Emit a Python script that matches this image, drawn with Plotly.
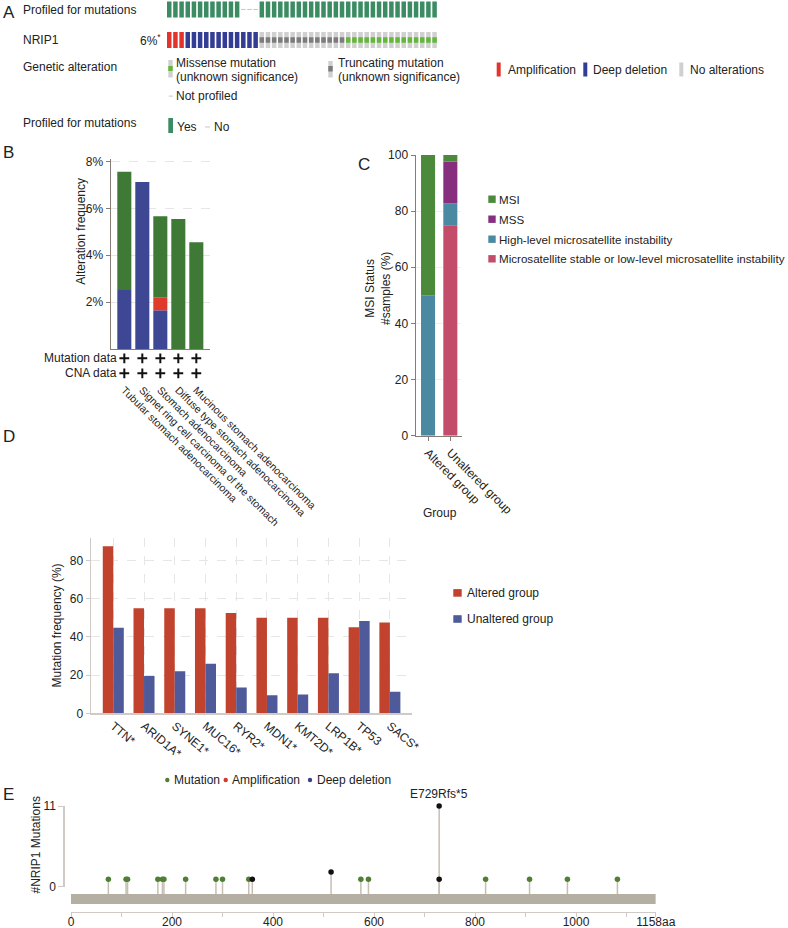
import plotly.graph_objects as go

W, H = 788, 928
FONT = "Liberation Sans, Arial, Helvetica, sans-serif"
TXT = "#222222"

def fx(x): return x / W
def fy(y): return 1 - y / H
def xdom(a, b): return [a / W, b / W]
def ydom(top, bottom): return [1 - bottom / H, 1 - top / H]

# ---------------- DATA ----------------
# Panel A (oncoprint)
a_profiled = ["Yes"] * 12 + ["No"] * 3 + ["Yes"] * 29
a_nrip1 = (["Amplification"] * 3 + ["Deep deletion"] * 12 +
           ["Truncating"] * 14 + ["Missense"] * 15)
a_gene = "NRIP1"
a_freq = "6%"

# Panel B (alteration frequency by cancer type)
b_types = ["Tubular stomach adenocarcinoma",
           "Signet ring cell carcinoma of the stomach",
           "Stomach adenocarcinoma",
           "Diffuse type stomach adenocarcinoma",
           "Mucinous stomach adenocarcinoma"]
b_deep_deletion = [2.52, 7.12, 1.65, 0.0, 0.0]
b_amplification = [0.0, 0.0, 0.55, 0.0, 0.0]
b_mutation = [5.04, 0.0, 3.46, 5.54, 4.55]
b_has_mutation_data = [True, True, True, True, True]
b_has_cna_data = [True, True, True, True, True]
b_yticks = [2, 4, 6, 8]
b_yticklabels = ["2%", "4%", "6%", "8%"]

# Panel C (MSI status)
c_groups = ["Altered group", "Unaltered group"]
c_ms_stable = [0.0, 75.0]
c_high_msi = [50.0, 7.8]
c_mss = [0.0, 14.9]
c_msi = [50.0, 2.3]
c_yticks = [0, 20, 40, 60, 80, 100]

# Panel D (co-mutation frequencies)
d_genes = ["TTN*", "ARID1A*", "SYNE1*", "MUC16*", "RYR2*", "MDN1*",
           "KMT2D*", "LRP1B*", "TP53", "SACS*"]
d_altered = [87.5, 55.0, 55.0, 55.0, 52.5, 50.0, 50.0, 50.0, 45.0, 47.5]
d_unaltered = [44.8, 19.5, 22.0, 26.0, 13.5, 9.5, 9.8, 21.0, 48.3, 11.3]
d_yticks = [0, 20, 40, 60, 80]

# Panel E (lollipop)
e_missense_pos = [74, 109, 112, 172, 181, 184, 227, 287, 300, 352,
                  574, 589, 821, 908, 983, 1082]
e_missense_cnt = [1] * 16
e_trunc_pos = [359, 515, 729, 729]
e_trunc_cnt = [1, 2, 11, 1]
e_hotspot_label = "E729Rfs*5"
e_hotspot_pos = 729
e_hotspot_cnt = 11
e_protein_len = 1158
e_xticks = [0, 200, 400, 600, 800, 1000, 1158]
e_xticklabels = ["0", "200", "400", "600", "800", "1000", "1158aa"]
e_xminor = [100, 300, 500, 700, 900, 1100]
e_yticks = [0, 11]

# ---------------- COLOURS ----------------
PROF_GREEN = "#3b8c63"
AMP_RED = "#e2342c"
DEL_BLUE = "#343d95"
NOALT_GRAY = "#d0d0d0"
TRUNC_GRAY = "#7c7c7c"
MISS_GREEN = "#63b83b"
NP_GRAY = "#c6c6c6"

B_GREEN = "#3e7a35"
B_BLUE = "#3d4794"
B_RED = "#e03a2c"

C_MSI = "#4c8a3b"
C_MSS = "#872e7e"
C_HIGH = "#4b88a2"
C_STABLE = "#c34c6a"

D_RED = "#c1432d"
D_BLUE = "#4e5a9a"

E_GREEN = "#4f7f35"
E_BLACK = "#111111"
E_RED = "#d23b2b"
E_BLUE = "#3b3f8e"
E_STEM = "#c6beb2"
E_PROT = "#b5aea3"

AX_DARK = "#857c77"
AX_LIGHT = "#cfcac5"
GRID = "#e6e6e6"

fig = go.Figure()
common = dict(showlegend=False, hoverinfo="skip")

# ---------------- PANEL A ----------------
CELL_W = 0.73
CELL_H = 0.525
INNER_H = 0.18
prof_yes = [i for i, s in enumerate(a_profiled) if s == "Yes"]
prof_no = [i for i, s in enumerate(a_profiled) if s == "No"]
fig.add_trace(go.Bar(x=prof_yes, y=[CELL_H] * len(prof_yes), base=1 - CELL_H / 2,
                     width=CELL_W, marker=dict(color=PROF_GREEN, line_width=0),
                     xaxis="x", yaxis="y", **common))
fig.add_trace(go.Bar(x=prof_no, y=[0.035] * len(prof_no), base=1 - 0.0175,
                     width=CELL_W, marker=dict(color=NP_GRAY, line_width=0),
                     xaxis="x", yaxis="y", **common))
cmap = {"Amplification": AMP_RED, "Deep deletion": DEL_BLUE,
        "Truncating": NOALT_GRAY, "Missense": NOALT_GRAY}
fig.add_trace(go.Bar(x=list(range(len(a_nrip1))), y=[CELL_H] * len(a_nrip1),
                     base=-CELL_H / 2, width=CELL_W,
                     marker=dict(color=[cmap[s] for s in a_nrip1], line_width=0),
                     xaxis="x", yaxis="y", **common))
for kind, col in [("Truncating", TRUNC_GRAY), ("Missense", MISS_GREEN)]:
    ids = [i for i, s in enumerate(a_nrip1) if s == kind]
    fig.add_trace(go.Bar(x=ids, y=[INNER_H] * len(ids), base=-INNER_H / 2,
                         width=CELL_W, marker=dict(color=col, line_width=0),
                         xaxis="x", yaxis="y", **common))

# ---------------- PANEL B ----------------
b_base_amp = b_deep_deletion
b_base_mut = [d + a for d, a in zip(b_deep_deletion, b_amplification)]
B_W = 0.78
fig.add_trace(go.Bar(x=b_types, y=b_deep_deletion, width=B_W,
                     marker=dict(color=B_BLUE, line_width=0), xaxis="x2", yaxis="y2", **common))
fig.add_trace(go.Bar(x=b_types, y=b_amplification, base=b_base_amp, width=B_W,
                     marker=dict(color=B_RED, line_width=0), xaxis="x2", yaxis="y2", **common))
fig.add_trace(go.Bar(x=b_types, y=b_mutation, base=b_base_mut, width=B_W,
                     marker=dict(color=B_GREEN, line_width=0), xaxis="x2", yaxis="y2", **common))
cross = dict(symbol="cross-thin", size=7, color="#111111", line=dict(width=2, color="#111111"))
fig.add_trace(go.Scatter(x=[t for t, f in zip(b_types, b_has_mutation_data) if f],
                         y=["Mutation data"] * sum(b_has_mutation_data), mode="markers",
                         marker=cross, xaxis="x3", yaxis="y3", **common))
fig.add_trace(go.Scatter(x=[t for t, f in zip(b_types, b_has_cna_data) if f],
                         y=["CNA data"] * sum(b_has_cna_data), mode="markers",
                         marker=cross, xaxis="x3", yaxis="y3", **common))

# ---------------- PANEL C ----------------
C_W = 0.63
c_series = [("Microsatellite stable or low-level microsatellite instability", c_ms_stable, C_STABLE),
            ("High-level microsatellite instability", c_high_msi, C_HIGH),
            ("MSS", c_mss, C_MSS),
            ("MSI", c_msi, C_MSI)]
running = [0.0] * len(c_groups)
for name, vals, col in c_series:
    fig.add_trace(go.Bar(x=c_groups, y=vals, base=list(running), width=C_W, name=name,
                         marker=dict(color=col, line_width=0), xaxis="x4", yaxis="y4", **common))
    running = [r + v for r, v in zip(running, vals)]

# ---------------- PANEL D ----------------
D_W = 0.342
fig.add_trace(go.Bar(x=d_genes, y=d_altered, width=D_W, offset=-D_W, name="Altered group",
                     marker=dict(color=D_RED, line_width=0), xaxis="x5", yaxis="y5", **common))
fig.add_trace(go.Bar(x=d_genes, y=d_unaltered, width=D_W, offset=0, name="Unaltered group",
                     marker=dict(color=D_BLUE, line_width=0), xaxis="x5", yaxis="y5", **common))

# ---------------- PANEL E ----------------
STEM_BASE = -1.0
sx, sy = [], []
for p, c in list(zip(e_missense_pos, e_missense_cnt)) + list(zip(e_trunc_pos, e_trunc_cnt)):
    sx += [p, p, None]
    sy += [STEM_BASE, c, None]
fig.add_trace(go.Scatter(x=sx, y=sy, mode="lines", line=dict(color=E_STEM, width=1.5),
                         xaxis="x6", yaxis="y6", **common))
fig.add_trace(go.Scatter(x=e_missense_pos, y=e_missense_cnt, mode="markers",
                         marker=dict(color=E_GREEN, size=5.5, line_width=0),
                         xaxis="x6", yaxis="y6", **common))
fig.add_trace(go.Scatter(x=e_trunc_pos, y=e_trunc_cnt, mode="markers",
                         marker=dict(color=E_BLACK, size=5.5, line_width=0),
                         xaxis="x6", yaxis="y6", **common))
fig.add_trace(go.Scatter(x=[None], y=[None], xaxis="x7", yaxis="y7", **common))

# ---------------- LAYOUT / AXES ----------------
hidden = dict(visible=False, fixedrange=True)
tickfont = dict(family=FONT, size=12, color=TXT)

layout = dict(
    width=W, height=H, margin=dict(l=0, r=0, t=0, b=0),
    paper_bgcolor="white", plot_bgcolor="rgba(0,0,0,0)",
    barmode="overlay", showlegend=False,
    font=dict(family=FONT, size=12, color=TXT),
    # A
    xaxis=dict(domain=xdom(167, 438.5), range=[-0.365, 43.635], anchor="y", **hidden),
    yaxis=dict(domain=ydom(0, 50), range=[-0.328, 1.311], anchor="x", **hidden),
    # B
    xaxis2=dict(domain=xdom(111, 210), anchor="y2", type="category",
                categoryorder="array", categoryarray=b_types, range=[-0.74, 4.76],
                showline=True, linecolor=AX_DARK, linewidth=1.2, ticks="",
                showticklabels=False, showgrid=False, zeroline=False, automargin=False),
    yaxis2=dict(domain=ydom(159.1, 349), anchor="x2", range=[0, 8.1],
                tickvals=b_yticks, ticktext=b_yticklabels, ticks="outside", ticklen=4,
                tickcolor=AX_DARK, showline=True, linecolor=AX_DARK, linewidth=1.5,
                showgrid=True, gridcolor=GRID, griddash="dash", zeroline=False,
                tickfont=tickfont, automargin=False),
    xaxis3=dict(domain=xdom(111, 210), anchor="y3", type="category",
                categoryorder="array", categoryarray=b_types, range=[-0.74, 4.76],
                showline=False, ticks="", tickangle=45, showgrid=False, zeroline=False,
                tickfont=dict(family=FONT, size=10.5, color=TXT), automargin=False),
    yaxis3=dict(domain=ydom(351, 381), anchor="x3", type="category",
                categoryorder="array", categoryarray=["CNA data", "Mutation data"],
                range=[-0.513, 1.487], **hidden),
    # C
    xaxis4=dict(domain=xdom(416, 461.7), anchor="y4", type="category",
                categoryorder="array", categoryarray=c_groups, range=[-0.54, 1.51],
                showline=True, linecolor=AX_DARK, linewidth=1.5, ticks="outside",
                ticklen=4, tickcolor=AX_DARK, tickangle=45, showgrid=False,
                zeroline=False, tickfont=tickfont, automargin=False),
    yaxis4=dict(domain=ydom(155, 435.7), anchor="x4", range=[0, 100],
                tickvals=c_yticks, ticks="outside", ticklen=4, tickcolor=AX_DARK,
                showline=True, linecolor=AX_DARK, linewidth=1.5, showgrid=True,
                gridcolor="#efefef", griddash="dash", zeroline=False,
                tickfont=tickfont, automargin=False),
    # D
    xaxis5=dict(domain=xdom(90.7, 411.7), anchor="y5", type="category",
                categoryorder="array", categoryarray=d_genes, range=[-0.735, 9.71],
                showline=True, linecolor=AX_LIGHT, linewidth=1.2, ticks="",
                tickangle=40, showgrid=True, gridcolor=GRID, griddash="dash",
                zeroline=False, tickfont=tickfont, automargin=False),
    yaxis5=dict(domain=ydom(537.6, 713.3), anchor="x5", range=[0, 92],
                tickvals=d_yticks, ticks="outside", ticklen=4, tickcolor=AX_LIGHT,
                showline=True, linecolor=AX_LIGHT, linewidth=1.2, showgrid=True,
                gridcolor=GRID, griddash="dash", zeroline=False,
                tickfont=tickfont, automargin=False),
    # E
    xaxis6=dict(domain=xdom(71, 655.8), anchor="y6", range=[0, e_protein_len],
                tickvals=e_xticks, ticktext=e_xticklabels, ticks="outside", ticklen=4,
                tickcolor=AX_LIGHT, showline=True, linecolor=AX_LIGHT, linewidth=1.2,
                minor=dict(tickvals=e_xminor, ticks="outside", ticklen=4, tickcolor=AX_LIGHT),
                ticklabelstandoff=-5,
                showgrid=False, zeroline=False, tickfont=tickfont, automargin=False),
    yaxis6=dict(domain=ydom(800, 911.7), anchor="x6", range=[-3.408, 11.82], **hidden),
    xaxis7=dict(domain=xdom(71, 655.8), anchor="y7", range=[0, e_protein_len], **hidden),
    yaxis7=dict(domain=ydom(806, 886.7), anchor="free", position=fx(63.3), range=[0, 11],
                tickvals=e_yticks, ticks="outside", ticklen=5, tickcolor=AX_LIGHT,
                showline=True, linecolor=AX_LIGHT, linewidth=1.2, showgrid=False,
                zeroline=False, tickfont=tickfont, automargin=False),
)
fig.update_layout(**layout)

# ---------------- SHAPES ----------------
shapes = []
def prect(x0, y0, x1, y1, color):
    shapes.append(dict(type="rect", xref="paper", yref="paper", x0=fx(x0), x1=fx(x1),
                       y0=fy(y1), y1=fy(y0), fillcolor=color, line_width=0, layer="above"))

# A legend glyphs
prect(168.3, 60, 172.7, 77.5, NOALT_GRAY)
prect(168.3, 66, 172.7, 71, MISS_GREEN)
prect(168.7, 95.6, 172.7, 96.6, NP_GRAY)
prect(328.3, 61, 332.7, 77.5, NOALT_GRAY)
prect(328.3, 66, 332.7, 71.5, TRUNC_GRAY)
prect(496.7, 62.5, 500.7, 76.5, AMP_RED)
prect(583.3, 62.5, 587.3, 76.5, DEL_BLUE)
prect(679.3, 62.5, 683.3, 76.5, NOALT_GRAY)
prect(168.3, 118, 173.0, 133, PROF_GREEN)
prect(205, 126.5, 210, 127.5, NP_GRAY)

# C legend squares
c_leg_y = [199.2, 219.2, 239.2, 258.8]
for (name, _, col), yy in zip(reversed(c_series), c_leg_y):
    prect(488.3, yy - 3.7, 495.7, yy + 3.7, col)
# D legend squares
d_leg = [("Altered group", D_RED, 592.9), ("Unaltered group", D_BLUE, 619.0)]
for name, col, yy in d_leg:
    prect(453.3, yy - 3.8, 461.7, yy + 3.8, col)
# E legend dots
e_leg = [("Mutation", E_GREEN, 167.3), ("Amplification", E_RED, 225.7), ("Deep deletion", E_BLUE, 310.0)]
for name, col, xx in e_leg:
    shapes.append(dict(type="circle", xref="paper", yref="paper",
                       x0=fx(xx - 2.2), x1=fx(xx + 2.2), y0=fy(780 + 2.2), y1=fy(780 - 2.2),
                       fillcolor=col, line_width=0))
# E protein bar
shapes.append(dict(type="rect", xref="x6", yref="y6", x0=0, x1=e_protein_len,
                   y0=-2.36, y1=STEM_BASE, fillcolor=E_PROT, line_width=0, layer="below"))
fig.update_layout(shapes=shapes)

# ---------------- ANNOTATIONS ----------------
ann = []
def txt(x, y, s, anchor="left", size=12, angle=0, color=TXT):
    ann.append(dict(x=fx(x), y=fy(y), xref="paper", yref="paper", text=s, showarrow=False,
                    xanchor=anchor, yanchor="middle", textangle=angle,
                    font=dict(family=FONT, size=size, color=color)))

# panel letters
txt(1, 13, "A", size=17)
txt(1, 153, "B", size=17)
txt(356, 164, "C", size=17)
txt(1, 436, "D", size=17)
txt(1, 794, "E", size=17)

# A texts
txt(20.5, 10.3, "Profiled for mutations")
txt(20.5, 39.5, a_gene)
txt(163, 39.5, a_freq + "<sup>*</sup>", anchor="right")
txt(20.5, 67, "Genetic alteration")
txt(174, 63, "Missense mutation")
txt(174, 77, "(unknown significance)")
txt(174, 96.3, "Not profiled")
txt(335.5, 63, "Truncating mutation")
txt(335.5, 77, "(unknown significance)")
txt(506, 69.5, "Amplification")
txt(591, 69.5, "Deep deletion")
txt(688, 69.5, "No alterations")
txt(20.5, 123, "Profiled for mutations")
txt(174.5, 127, "Yes")
txt(212, 127, "No")

# B texts
txt(80.7, 231, "Alteration frequency", anchor="center", angle=-90)
txt(118.5, 357.5, "Mutation data", anchor="right")
txt(118.5, 372.5, "CNA data", anchor="right")

# C texts
txt(378, 289, "MSI Status<br>#samples (%)", anchor="center", angle=-90)
txt(440, 512.7, "Group", anchor="center")
for (name, _, col), yy in zip(reversed(c_series), c_leg_y):
    txt(497, yy, name, size=11.6)

# D texts
txt(56, 625.5, "Mutation frequency (%)", anchor="center", angle=-90)
for name, col, yy in d_leg:
    txt(464.5, yy, name)

# E texts
for name, col, xx in e_leg:
    txt(xx + 4.5, 780, name)
txt(35, 845.5, "#NRIP1 Mutations", anchor="center", angle=-90)
ann.append(dict(x=e_hotspot_pos, y=e_hotspot_cnt, xref="x6", yref="y6", text=e_hotspot_label,
                showarrow=False, xanchor="center", yanchor="bottom", yshift=3,
                font=dict(family=FONT, size=12, color=TXT)))
fig.update_layout(annotations=ann)

fig.write_html("out.html", config={"displayModeBar": False, "staticPlot": True},
               post_script="document.body.style.margin='0';document.body.style.padding='0';"
                           "document.body.style.overflow='hidden';")
